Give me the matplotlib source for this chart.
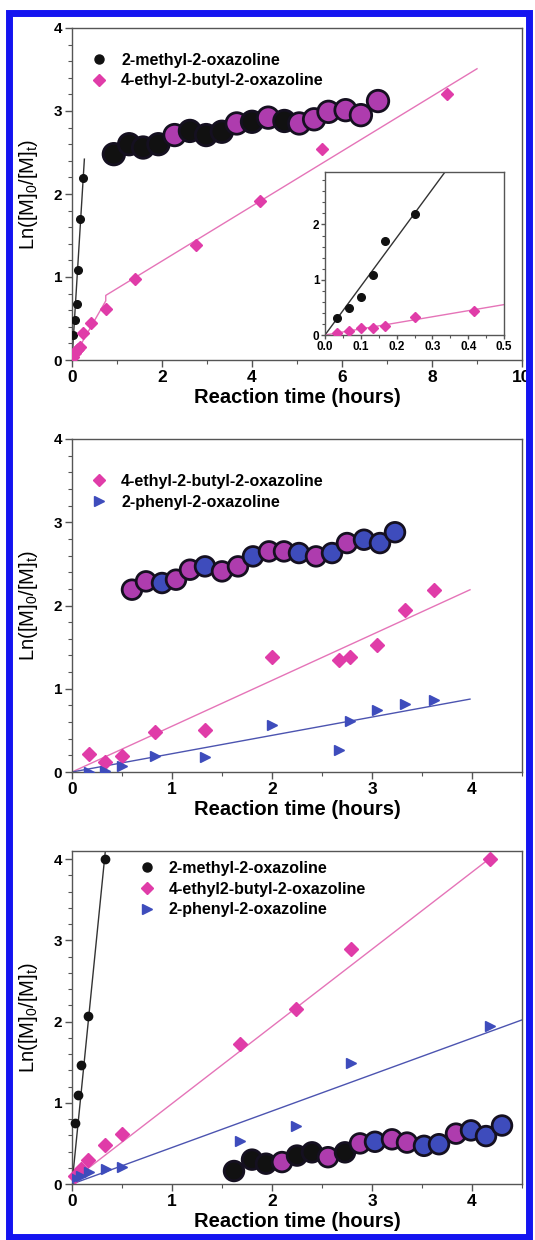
import numpy as np
import matplotlib
matplotlib.use("Agg")
import matplotlib.pyplot as plt
from matplotlib.lines import Line2D
from matplotlib.patches import Rectangle
from matplotlib.ticker import MultipleLocator, FormatStrFormatter

plt.rcParams['font.family'] = ['Liberation Sans', 'DejaVu Sans']
plt.rcParams['font.weight'] = 'bold'
plt.rcParams['mathtext.default'] = 'regular'

BLACK = '#111111'
PINK = '#E03CA8'
PURPLE = '#AE3CAE'
BLUE = '#3E4CBC'
COL = {'k': BLACK, 'p': PURPLE, 'b': BLUE}

# ---- panel 1 : 2-methyl- / 4-ethyl-2-butyl-2-oxazoline ----
p1_me_t = [0.033, 0.067, 0.1, 0.133, 0.167, 0.25]
p1_me_y = [0.30, 0.48, 0.68, 1.08, 1.70, 2.19]
p1_eb_t = [0.033, 0.067, 0.1, 0.133, 0.167, 0.25, 0.417, 0.75, 1.4, 2.75, 4.17, 5.55, 8.33]
p1_eb_y = [0.04, 0.08, 0.12, 0.13, 0.16, 0.32, 0.44, 0.62, 0.97, 1.38, 1.92, 2.54, 3.20]
p1_me_fit = (8.8, 0.0)          # slope, intercept
p1_eb_fit_early = (0.95, 0.0)
p1_eb_fit_late = (0.331, 0.53)
p1_eb_break = 0.75
p1_eb_end = 9.0
p1_me_end = 0.275
# inset fits
in_me_fit = (8.8, 0.0)
in_eb_fit = (1.1, 0.0)

# chain of beads drawn on top of panel 1
p1_bead_t = [0.93, 1.27, 1.58, 1.92, 2.28, 2.62, 2.98, 3.33, 3.66, 4.0, 4.36, 4.72,
             5.05, 5.38, 5.70, 6.08, 6.42, 6.80]
p1_bead_y = [2.48, 2.60, 2.56, 2.60, 2.71, 2.76, 2.71, 2.75, 2.85, 2.87, 2.92, 2.88,
             2.85, 2.90, 2.99, 3.01, 2.95, 3.12]
p1_bead_c = list('kkkkpkkkpkpkpppppp')

# ---- panel 2 : 4-ethyl-2-butyl- / 2-phenyl-2-oxazoline ----
p2_eb_t = [0.167, 0.333, 0.5, 0.833, 1.333, 2.0, 2.667, 2.783, 3.05, 3.333, 3.617]
p2_eb_y = [0.22, 0.12, 0.19, 0.48, 0.50, 1.38, 1.34, 1.38, 1.52, 1.95, 2.19]
p2_ph_t = [0.167, 0.333, 0.5, 0.833, 1.333, 2.0, 2.667, 2.783, 3.05, 3.333, 3.617]
p2_ph_y = [0.00, 0.01, 0.07, 0.19, 0.18, 0.56, 0.27, 0.61, 0.75, 0.82, 0.87]
p2_eb_fit = (0.55, 0.0)
p2_ph_fit = (0.22, 0.0)
p2_fit_end = 3.98

p2_bead_t = [0.60, 0.74, 0.90, 1.04, 1.18, 1.33, 1.50, 1.66, 1.81, 1.97, 2.12, 2.27,
             2.44, 2.60, 2.75, 2.92, 3.08, 3.23]
p2_bead_y = [2.19, 2.29, 2.27, 2.31, 2.43, 2.47, 2.41, 2.47, 2.59, 2.65, 2.65, 2.63,
             2.59, 2.63, 2.75, 2.79, 2.75, 2.88]
p2_bead_c = list('ppbppbppbppbpbpbbb')

# ---- panel 3 : all three monomers ----
p3_me_t = [0.033, 0.058, 0.092, 0.16, 0.325]
p3_me_y = [0.75, 1.10, 1.47, 2.07, 4.00]
p3_eb_t = [0.033, 0.085, 0.16, 0.33, 0.5, 1.68, 2.24, 2.79, 4.18]
p3_eb_y = [0.10, 0.19, 0.30, 0.48, 0.62, 1.72, 2.16, 2.89, 4.00]
p3_ph_t = [0.033, 0.085, 0.17, 0.34, 0.5, 1.68, 2.24, 2.79, 4.18]
p3_ph_y = [0.07, 0.10, 0.15, 0.19, 0.21, 0.53, 0.71, 1.49, 1.95]
p3_me_fit = (12.3, 0.0)
p3_eb_fit = (0.95, 0.04)
p3_ph_fit = (0.449, 0.0)
p3_me_end = 0.34
p3_eb_end = 4.2
p3_ph_end = 4.5

p3_bead_t = [1.62, 1.80, 1.94, 2.10, 2.25, 2.40, 2.56, 2.73, 2.88, 3.03, 3.20, 3.35,
             3.52, 3.67, 3.84, 3.99, 4.14, 4.30]
p3_bead_y = [0.16, 0.30, 0.25, 0.27, 0.35, 0.39, 0.33, 0.39, 0.50, 0.52, 0.55, 0.51,
             0.47, 0.49, 0.62, 0.66, 0.59, 0.72]
p3_bead_c = list('kkkpkkpkpbppbbpbbb')

W, H = 535, 1240
fig = plt.figure(figsize=(W / 100, H / 100), dpi=100)


def px_axes(left, top, right, bottom):
    return fig.add_axes([left / W, 1 - bottom / H, (right - left) / W, (bottom - top) / H])


def fit_line(ax, fit, t0, t1, color):
    t = np.array([t0, t1])
    ax.plot(t, fit[0] * t + fit[1], color=color, lw=1.0, zorder=2)


def style(ax, xmaj, xmin_, xsize=12.5, ysize=11):
    for s in ax.spines.values():
        s.set_color('#555555')
        s.set_linewidth(1.0)
    ax.xaxis.set_major_locator(MultipleLocator(xmaj))
    ax.xaxis.set_minor_locator(MultipleLocator(xmin_))
    ax.yaxis.set_major_locator(MultipleLocator(1))
    ax.yaxis.set_minor_locator(MultipleLocator(0.2))
    ax.tick_params(which='both', direction='out', top=False, right=False,
                   color='#555555')
    ax.tick_params(which='major', length=5, width=1)
    ax.tick_params(which='minor', length=3, width=0.8)
    ax.tick_params(axis='x', labelsize=xsize, pad=2)
    ax.tick_params(axis='y', labelsize=ysize, pad=2)


def labels(ax):
    ax.set_xlabel('Reaction time (hours)', fontsize=14.5, fontweight='bold')
    ax.xaxis.set_label_coords(0.5, -0.084)
    ax.set_ylabel('Ln([M]$_0$/[M]$_t$)', fontsize=14.5, fontweight='normal')
    ax.yaxis.set_label_coords(-0.07, 0.5)


def beads(ax, t, y, c, s):
    ax.scatter(t, y, s=s, c=[COL[k] for k in c], edgecolors='#151020',
               linewidths=2.0, zorder=5)


def legend(ax, items, x0, y0):
    handles = []
    for lab, mk, col, ms in items:
        handles.append(Line2D([], [], ls='none', marker=mk, color=col, ms=ms, label=lab))
    ax.legend(handles=handles, loc='upper left', bbox_to_anchor=(x0, y0),
              frameon=False, fontsize=11.5, handlelength=1.0, handletextpad=0.9,
              borderpad=0, borderaxespad=0, labelspacing=0.35)


# ---------------- panel 1 ----------------
ax1 = px_axes(72, 28, 522, 360)
ax1.set_xlim(0, 10)
ax1.set_ylim(0, 4)
style(ax1, 2, 1)
labels(ax1)
fit_line(ax1, p1_me_fit, 0, p1_me_end, '#333333')
te = np.array([0, p1_eb_break])
tl = np.array([p1_eb_break, p1_eb_end])
ax1.plot(np.r_[te, tl],
         np.r_[p1_eb_fit_early[0] * te + p1_eb_fit_early[1],
               p1_eb_fit_late[0] * tl + p1_eb_fit_late[1]],
         color='#E574B8', lw=1.0, zorder=2)
ax1.plot(p1_me_t, p1_me_y, 'o', color=BLACK, ms=5.5, zorder=3)
ax1.plot(p1_eb_t, p1_eb_y, 'D', color=PINK, ms=6, zorder=3)
beads(ax1, p1_bead_t, p1_bead_y, p1_bead_c, 240)
legend(ax1, [('2-methyl-2-oxazoline', 'o', BLACK, 6.5),
             ('4-ethyl-2-butyl-2-oxazoline', 'D', PINK, 6.5)], 0.042, 0.925)

# inset
axi = px_axes(325, 172, 504, 335)
axi.set_xlim(0, 0.5)
axi.set_ylim(0, 2.95)
style(axi, 0.1, 0.05, xsize=8.5, ysize=8.5)
axi.xaxis.set_major_formatter(FormatStrFormatter('%.1f'))
axi.tick_params(which='major', length=3)
axi.tick_params(which='minor', length=2)
axi.tick_params(axis='both', pad=1)
fit_line(axi, in_me_fit, 0, 0.36, '#333333')
fit_line(axi, in_eb_fit, 0, 0.5, '#E574B8')
axi.plot(p1_me_t, p1_me_y, 'o', color=BLACK, ms=5.5, zorder=3)
axi.plot(p1_eb_t, p1_eb_y, 'D', color=PINK, ms=5.5, zorder=3)

# ---------------- panel 2 ----------------
ax2 = px_axes(72, 439, 522, 772)
ax2.set_xlim(0, 4.5)
ax2.set_ylim(0, 4)
style(ax2, 1, 0.5)
labels(ax2)
fit_line(ax2, p2_eb_fit, 0, p2_fit_end, '#E574B8')
fit_line(ax2, p2_ph_fit, 0, p2_fit_end, '#4C54B0')
ax2.plot(p2_eb_t, p2_eb_y, 'D', color=PINK, ms=7, zorder=3)
ax2.plot(p2_ph_t, p2_ph_y, '>', color=BLUE, ms=7.5, zorder=3)
beads(ax2, p2_bead_t, p2_bead_y, p2_bead_c, 200)
legend(ax2, [('4-ethyl-2-butyl-2-oxazoline', 'D', PINK, 6.5),
             ('2-phenyl-2-oxazoline', '>', BLUE, 7)], 0.042, 0.895)

# ---------------- panel 3 ----------------
ax3 = px_axes(72, 851, 522, 1184)
ax3.set_xlim(0, 4.5)
ax3.set_ylim(0, 4.1)
style(ax3, 1, 0.5)
labels(ax3)
fit_line(ax3, p3_me_fit, 0, p3_me_end, '#333333')
fit_line(ax3, p3_eb_fit, 0, p3_eb_end, '#E574B8')
fit_line(ax3, p3_ph_fit, 0, p3_ph_end, '#4C54B0')
ax3.plot(p3_me_t, p3_me_y, 'o', color=BLACK, ms=6, zorder=3, clip_on=False)
ax3.plot(p3_eb_t, p3_eb_y, 'D', color=PINK, ms=7, zorder=3, clip_on=False)
ax3.plot(p3_ph_t, p3_ph_y, '>', color=BLUE, ms=7.5, zorder=3)
beads(ax3, p3_bead_t, p3_bead_y, p3_bead_c, 200)
legend(ax3, [('2-methyl-2-oxazoline', 'o', BLACK, 6.5),
             ('4-ethyl2-butyl-2-oxazoline', 'D', PINK, 6.5),
             ('2-phenyl-2-oxazoline', '>', BLUE, 7)], 0.148, 0.97)

# blue frame round the whole figure
fig.patches.append(Rectangle((9 / W, 1 - 1237 / H), 520 / W, 1224 / H,
                             transform=fig.transFigure, fill=False,
                             edgecolor='#1414F0', lw=5, zorder=100))

fig.savefig('out.png', dpi=100)
